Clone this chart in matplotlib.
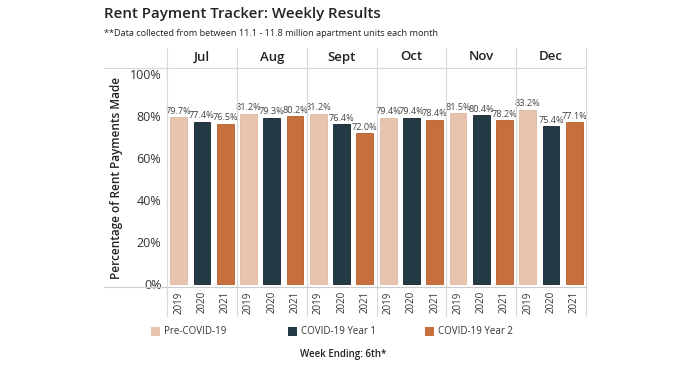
import numpy as np
import matplotlib.pyplot as plt
from matplotlib.lines import Line2D
from matplotlib.patches import Rectangle

months = ["Jul", "Aug", "Sept", "Oct", "Nov", "Dec"]
years = ["2019", "2020", "2021"]
series_names = ["Pre-COVID-19", "COVID-19 Year 1", "COVID-19 Year 2"]
pre_covid = [79.7, 81.2, 81.2, 79.4, 81.5, 83.2]
covid_y1 = [77.4, 79.3, 76.4, 79.4, 80.4, 75.4]
covid_y2 = [76.5, 80.2, 72.0, 78.4, 78.2, 77.1]
y_ticks = [0, 20, 40, 60, 80, 100]

colors = ["#e8c3ad", "#233a45", "#c86f3e"]
edges = ["#e0b8a0", "#12232c", "#b45f30"]
grid_c = "#d9d9d9"
text_c = "#333333"

plt.rcParams["font.family"] = ["Open Sans", "DejaVu Sans"]

W, H = 696, 365
fig = plt.figure(figsize=(W / 100, H / 100), dpi=100)


def fx(px):
    return px / W


def fy(py):
    return 1 - py / H


def fig_line(x0, y0, x1, y1, color=grid_c, lw=0.8):
    fig.add_artist(Line2D([fx(x0), fx(x1)], [fy(y0), fy(y1)], transform=fig.transFigure,
                          color=color, lw=lw))


left, right, top, bottom = 167, 586, 68, 287
ax = fig.add_axes([fx(left), fy(bottom), fx(right - left), (bottom - top) / H])

vals = [pre_covid, covid_y1, covid_y2]
for s in range(3):
    xs = np.arange(6) * 3 + s
    heights = np.array(vals[s]) / 100
    ax.bar(xs, heights, width=0.72, color=colors[s], edgecolor=edges[s], linewidth=0.6, zorder=3)
    for x, v in zip(xs, vals[s]):
        ax.text(x, v / 100 + 0.006, f"{v:.1f}%", ha="center", va="bottom",
                fontsize=6.6, color="#444444", zorder=4)

ax.set_xlim(-0.5, 17.5)
ax.set_ylim(-0.014, 1.03)
ax.set_yticks([t / 100 for t in y_ticks])
ax.set_yticklabels([f"{t}%" for t in y_ticks], fontsize=9, color=text_c)
ax.set_xticks(np.arange(18))
ax.set_xticklabels(years * 6, rotation=90, fontsize=7, color=text_c)
ax.tick_params(length=0, pad=3)
ax.tick_params(axis="y", pad=4)
for sp in ax.spines.values():
    sp.set_visible(False)
ax.set_ylabel("Percentage of Rent Payments Made", fontsize=8.5, fontweight="semibold",
              color="#222222", labelpad=5)

# table-like separators
for i in range(7):
    xp = left + i * (right - left) / 6
    fig_line(xp, 48, xp, 316)
fig_line(104, top, right, top)
fig_line(104, bottom, right, bottom, color="#cccccc")

for i, m in enumerate(months):
    xc = left + (i + 0.5) * (right - left) / 6
    fig.text(fx(xc), fy(57), m, ha="center", va="center", fontsize=9.5,
             fontweight="semibold", color="#222222")

fig.text(fx(104), fy(14), "Rent Payment Tracker: Weekly Results", ha="left", va="center",
         fontsize=10.8, fontweight="semibold", color="#222222")
fig.text(fx(104), fy(34), "**Data collected from between 11.1 - 11.8 million apartment units each month",
         ha="left", va="center", fontsize=6.6, color="#222222")

# legend
for x0, name, c in zip([151, 288, 425], series_names, colors):
    fig.add_artist(Rectangle((fx(x0), fy(336)), fx(9), 9 / H, transform=fig.transFigure,
                             facecolor=c, edgecolor="none"))
    fig.text(fx(x0 + 13), fy(331.5), name, ha="left", va="center", fontsize=7, color=text_c)

fig.text(fx(343), fy(355), "Week Ending: 6th*", ha="center", va="center", fontsize=7,
         fontweight="semibold", color="#222222")

fig.savefig("out.png", dpi=100, facecolor="white")
